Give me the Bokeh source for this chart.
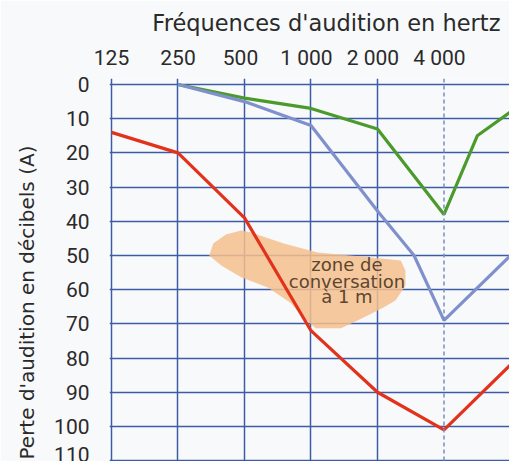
import math
from bokeh.plotting import figure
from bokeh.models import Range1d, FixedTicker, Span, Title
from bokeh.core.properties import value
from bokeh.embed import file_html
from bokeh.resources import INLINE

# x positions: octave index (125 Hz = 0, 250 = 1, ... 4000 = 5, 8000 = 6)
freq_grid = [0, 1, 2, 3, 4]
freq_ticks = [0, 1, 1.94, 2.93, 3.93, 4.93]
freq_labels = ["125", "250", "500", "1 000", "2 000", "4 000"]
db_ticks = [0, 10, 20, 30, 40, 50, 60, 70, 80, 90, 100, 110]

green_x = [1, 2, 3, 4, 5, 5.5, 6]
green_y = [0, 4, 7, 13, 38, 15, 8]

blue_x = [1, 2, 3, 4, 4.55, 5, 6]
blue_y = [0, 5, 12, 37, 50, 69, 50]

red_x = [0, 1, 2, 3, 4, 5, 6]
red_y = [14, 20, 39, 72, 90, 101, 82]

zone_x = [2.10, 2.59, 3.10, 3.75, 4.35, 4.42, 4.42, 4.27, 4.09, 3.70, 3.45, 3.07,
          2.85, 2.70, 2.35, 1.95, 1.65, 1.47, 1.53, 1.72, 1.95]
zone_y = [43.3, 46.5, 49.1, 50.3, 51.5, 54.4, 58.8, 63.2, 65.2, 69.0, 71.3, 71.3,
          67.5, 64.0, 59.4, 56.4, 52.9, 50.0, 46.5, 43.9, 42.7]
zone_text = ["zone de", "conversation", "à 1 m"]
zone_text_x = [3.54, 3.54, 3.54]
zone_text_y = [52.6, 57.6, 62.0]

FONT = "Roboto"
TFONT = "DejaVu Sans"
BG = "#f8f9fb"
GRID = "#3d5ca6"
TXT = "#2a2a2a"

p = figure(width=509, height=461, output_backend="svg", toolbar_location=None,
           x_axis_location="above",
           x_range=Range1d(-0.03, 5.985), y_range=Range1d(110.25, -1.75),
           min_border_left=108, min_border_right=0, min_border_top=78, min_border_bottom=0)
p.background_fill_color = BG
p.border_fill_color = BG
p.outline_line_color = None

p.title = Title(text="Fréquences d'audition en hertz", align="right",
                text_font=TFONT, text_font_size="22.5px", text_font_style="normal",
                text_color=TXT, offset=9, standoff=14)

p.add_layout(Title(text="Perte d'audition en décibels (A)", align="left",
                   text_font=TFONT, text_font_size="20px", text_font_style="normal",
                   text_color=TXT, offset=2, standoff=25), "left")

# axes
xa = p.xaxis[0]
xa.ticker = FixedTicker(ticks=freq_ticks)
xa.major_label_overrides = {t: l for t, l in zip(freq_ticks, freq_labels)}
ya = p.yaxis[0]
ya.ticker = FixedTicker(ticks=db_ticks)
for ax in (xa, ya):
    ax.axis_line_color = None
    ax.major_tick_line_color = None
    ax.minor_tick_line_color = None
    ax.major_tick_out = 0
    ax.major_label_text_font = FONT
    ax.major_label_text_font_size = "21px"
    ax.major_label_text_color = TXT
xa.major_label_standoff = 9
ya.major_label_standoff = 20

# grids
p.xgrid.ticker = FixedTicker(ticks=freq_grid)
p.ygrid.ticker = FixedTicker(ticks=db_ticks)
for g in (p.xgrid[0], p.ygrid[0]):
    g.grid_line_color = GRID
    g.grid_line_width = 1.5
p.add_layout(Span(location=5, dimension="height", line_color="#7d8cc0",
                  line_width=1.5, line_dash="4 3"))

# zone de conversation
p.patch(zone_x, zone_y, fill_color="#f6bf8c", fill_alpha=0.85, line_color=None)
p.text(x=zone_text_x, y=zone_text_y, text=zone_text, text_align="center",
       text_baseline="middle", text_font=value(TFONT), text_font_size="18px",
       text_color="#5c4630")

# curves
p.line(green_x, green_y, line_color="#4a9a2c", line_width=3.2)
p.line(blue_x, blue_y, line_color="#8090cc", line_width=3.2)
p.line(red_x, red_y, line_color="#e3321c", line_width=3.2)

open("out.html", "w").write(file_html(p, INLINE))
